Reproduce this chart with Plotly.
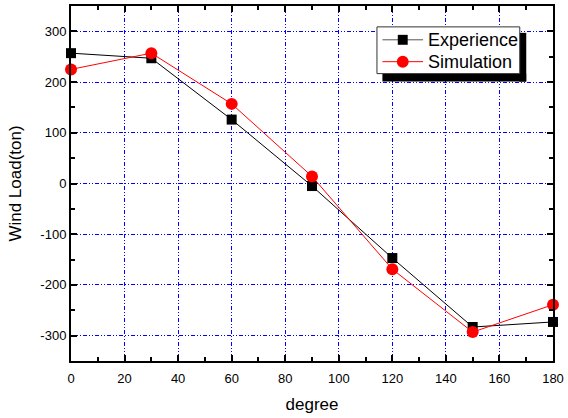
import plotly.graph_objects as go

degrees = [0, 30, 60, 90, 120, 150, 180]
experience = [257, 247, 126, -5, -147, -283, -273]
simulation = [225, 257, 157, 14, -169, -293, -239]
x_ticks = [0, 20, 40, 60, 80, 100, 120, 140, 160, 180]
y_ticks = [-300, -200, -100, 0, 100, 200, 300]
y_tick_labels = ["-300", "-200", "-100", "0", "100", "200", "300"]
series_names = ["Experience", "Simulation"]
series_colors = ["black", "red"]

font = "Liberation Sans, Arial, sans-serif"

L, R, T, B = 71, 557, 4, 361
W, H = 568, 418


def px(x):
    return (x - L) / (R - L)


def py(y):
    return (B - y) / (B - T)


fig = go.Figure()
fig.add_trace(go.Scatter(x=degrees, y=experience, name=series_names[0], mode="lines+markers",
                         line=dict(color=series_colors[0], width=1),
                         marker=dict(symbol="square", size=10, color=series_colors[0]), cliponaxis=False))
fig.add_trace(go.Scatter(x=degrees, y=simulation, name=series_names[1], mode="lines+markers",
                         line=dict(color=series_colors[1], width=1),
                         marker=dict(symbol="circle", size=12, color=series_colors[1]), cliponaxis=False))

axis_common = dict(showline=True, linecolor="black", linewidth=2, mirror="allticks",
                   ticks="inside", ticklen=6, tickwidth=1.5, tickcolor="black",
                   showgrid=True, gridcolor="blue", griddash="4px,2px,1px,2px,1px,2px", gridwidth=1,
                   zeroline=False, tickfont=dict(size=13, color="black", family=font))

fig.update_xaxes(range=[0, 180], tickvals=x_ticks, ticklabelstandoff=4,
                 minor=dict(dtick=10, ticklen=4, ticks="inside", tickcolor="black", showgrid=False),
                 title=dict(text="degree", font=dict(size=17, color="black", family=font), standoff=14),
                 **axis_common)
fig.update_yaxes(range=[-350, 350], tickvals=y_ticks, ticktext=y_tick_labels,
                 minor=dict(dtick=50, ticklen=4, ticks="inside", tickcolor="black", showgrid=False),
                 title=dict(text="Wind Load(ton)", font=dict(size=17, color="black", family=font), standoff=14),
                 **axis_common)

# legend drop shadow as thick lines (bottom and right)
fig.add_shape(type="line", xref="paper", yref="paper", x0=px(385), x1=px(530), y0=py(76), y1=py(76),
              line=dict(color="black", width=8), layer="above")
fig.add_shape(type="line", xref="paper", yref="paper", x0=px(526.5), x1=px(526.5), y0=py(80), y1=py(31),
              line=dict(color="black", width=7), layer="above")
# legend box
fig.add_shape(type="rect", xref="paper", yref="paper", x0=px(379.5), x1=px(523.5), y0=py(72), y1=py(25),
              fillcolor="white", line=dict(color="#333333", width=1), layer="above")
rows = [38, 60]
for i, (name, color) in enumerate(zip(series_names, series_colors)):
    yc = rows[i]
    fig.add_shape(type="line", xref="paper", yref="paper", x0=px(385), x1=px(426),
                  y0=py(yc), y1=py(yc), line=dict(color="#555555" if color == "black" else color, width=1),
                  layer="above")
    if i == 0:
        fig.add_shape(type="rect", xref="paper", yref="paper", x0=px(400.5), x1=px(410.5),
                      y0=py(yc + 5), y1=py(yc - 5), fillcolor=color, line=dict(width=0), layer="above")
    else:
        fig.add_shape(type="circle", xref="paper", yref="paper", x0=px(399.5), x1=px(411.5),
                      y0=py(yc + 6), y1=py(yc - 6), fillcolor=color, line=dict(width=0), layer="above")
    fig.add_annotation(text=name, xref="paper", yref="paper", x=px(429), y=py(yc),
                       xanchor="left", yanchor="middle", showarrow=False,
                       font=dict(size=18, family=font, color="black"))

fig.update_layout(
    width=W, height=H,
    margin=dict(l=L, r=W - R, t=T, b=H - B),
    plot_bgcolor="white", paper_bgcolor="white",
    font=dict(family=font, color="black"),
    showlegend=False,
)

fig.write_html("out.html", config={"displayModeBar": False},
               post_script="document.body.style.margin='0';")
